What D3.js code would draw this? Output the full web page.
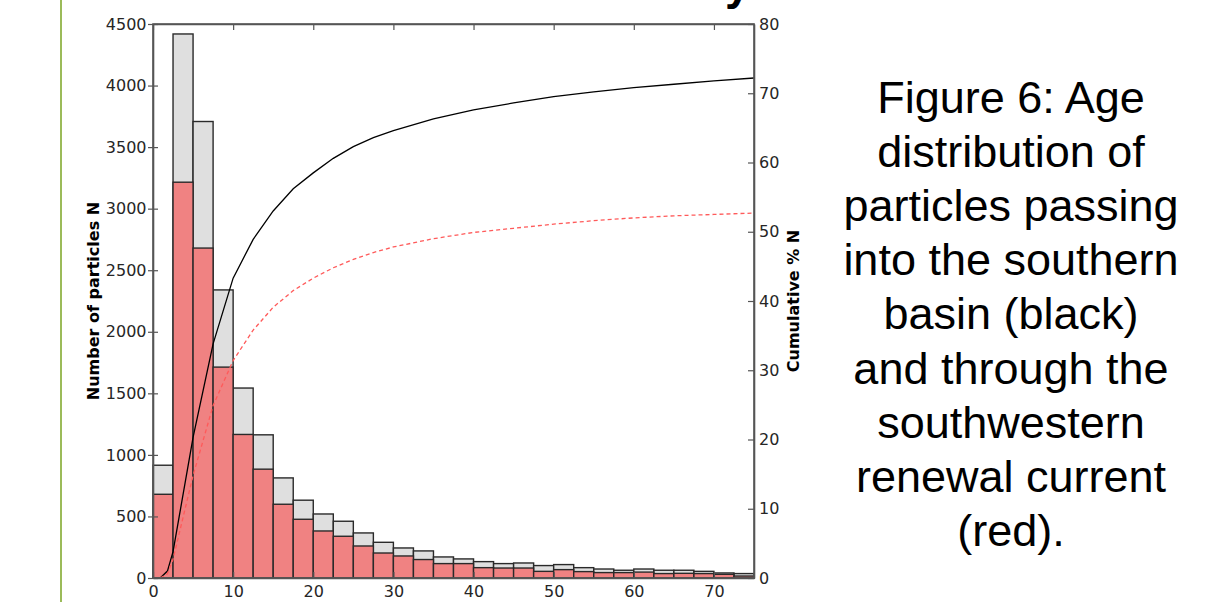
<!DOCTYPE html>
<html>
<head>
<meta charset="utf-8">
<script src="https://cdn.jsdelivr.net/npm/d3@7"></script>
<style>
  body { margin: 0; background: #fff; }
  svg { display: block; }
  .tick text { font-family: "DejaVu Sans", sans-serif; font-size: 16px; fill: #262626; }
  .caption { font-family: "Liberation Sans", Arial, sans-serif; font-size: 45px; fill: #000; }
</style>
</head>
<body>
<svg id="chart" width="1220" height="602"></svg>
<script>
// left edge of each 2.5-unit age bin
const binStarts = [0, 2.5, 5, 7.5, 10, 12.5, 15, 17.5, 20, 22.5, 25, 27.5, 30, 32.5, 35,
  37.5, 40, 42.5, 45, 47.5, 50, 52.5, 55, 57.5, 60, 62.5, 65, 67.5, 70, 72.5];
const binWidth = 2.5;

// particles entering the southern basin (grey bars)
const basinCounts = [916, 4419, 3708, 2340, 1543, 1163, 813, 632, 520, 461, 366, 290, 244, 220, 171,
  155, 133, 117, 122, 101, 109, 84, 73, 63, 73, 63, 63, 54, 41, 36];
// particles through the southwestern renewal current (red bars)
const renewalCounts = [680, 3215, 2680, 1713, 1166, 884, 599, 477, 382, 339, 260, 203, 179, 150, 117,
  117, 84, 81, 81, 54, 68, 52, 44, 44, 48, 36, 38, 36, 30, 16];

// cumulative % curves: [age, percent]
const basinCumulative = [[0.9, 0], [1.8, 1.0], [2.5, 3.8], [5, 20.3], [7.5, 33.8], [10, 43.3], [12.5, 48.9],
  [15, 53.0], [17.5, 56.2], [20, 58.5], [22.5, 60.6], [25, 62.3], [27.5, 63.6], [30, 64.6], [35, 66.3],
  [40, 67.6], [45, 68.6], [50, 69.5], [55, 70.2], [60, 70.8], [65, 71.3], [70, 71.8], [75, 72.2]];
const renewalCumulative = [[0.9, 0], [1.8, 0.6], [2.5, 2.7], [5, 14.8], [7.5, 24.9], [10, 31.4], [12.5, 35.8],
  [15, 39.1], [17.5, 41.5], [20, 43.3], [22.5, 44.8], [25, 46.0], [27.5, 47.0], [30, 47.8], [35, 49.0],
  [40, 49.9], [45, 50.5], [50, 51.1], [55, 51.6], [60, 52.0], [65, 52.3], [70, 52.5], [75, 52.7]];

const xTicks = [0, 10, 20, 30, 40, 50, 60, 70];
const countTicks = [0, 500, 1000, 1500, 2000, 2500, 3000, 3500, 4000, 4500];
const pctTicks = [0, 10, 20, 30, 40, 50, 60, 70, 80];

const captionLines = ['Figure 6: Age', 'distribution of', 'particles passing', 'into the southern',
  'basin (black)', 'and through the', 'southwestern', 'renewal current', '(red).'];

const svg = d3.select('#chart');

// slide decoration: green rule on the left, tail of the cut-off title at top
svg.append('line')
  .attr('x1', 61).attr('x2', 61).attr('y1', 0).attr('y2', 602)
  .attr('stroke', '#9bbb59').attr('stroke-width', 2);

svg.append('text')
  .attr('x', 725).attr('y', -1)
  .style('font-family', '"Liberation Sans", Arial, sans-serif')
  .style('font-size', '46px').style('font-weight', 'bold')
  .text('y');

const margin = { left: 153, top: 24, right: 466, bottom: 24 };
const width = 1220 - margin.left - margin.right;
const height = 602 - margin.top - margin.bottom;

const g = svg.append('g').attr('transform', `translate(${margin.left},${margin.top})`);

const x = d3.scaleLinear().domain([0, 75]).range([0, width]);
const yCount = d3.scaleLinear().domain([0, 4500]).range([height, 0]);
const yPct = d3.scaleLinear().domain([0, 80]).range([height, 0]);

const barStroke = '#2a2a2a';

g.selectAll('rect.basin')
  .data(binStarts)
  .join('rect')
  .attr('class', 'basin')
  .attr('x', (d) => x(d))
  .attr('width', x(binWidth) - x(0))
  .attr('y', (d, i) => yCount(basinCounts[i]))
  .attr('height', (d, i) => height - yCount(basinCounts[i]))
  .attr('fill', '#dfdfdf')
  .attr('stroke', barStroke)
  .attr('stroke-width', 1.4);

g.selectAll('rect.renewal')
  .data(binStarts)
  .join('rect')
  .attr('class', 'renewal')
  .attr('x', (d) => x(d))
  .attr('width', x(binWidth) - x(0))
  .attr('y', (d, i) => yCount(renewalCounts[i]))
  .attr('height', (d, i) => height - yCount(renewalCounts[i]))
  .attr('fill', '#f08282')
  .attr('stroke', barStroke)
  .attr('stroke-width', 1.4);

const line = d3.line()
  .x((d) => x(d[0]))
  .y((d) => yPct(d[1]));

g.append('path')
  .datum(basinCumulative)
  .attr('d', line)
  .attr('fill', 'none')
  .attr('stroke', '#000')
  .attr('stroke-width', 1.3);

g.append('path')
  .datum(renewalCumulative)
  .attr('d', line)
  .attr('fill', 'none')
  .attr('stroke', '#ff5a5a')
  .attr('stroke-width', 1.3)
  .attr('stroke-dasharray', '4,3');

// axes
const axisColor = '#555';
const fmt = d3.format('d');

g.append('g')
  .attr('transform', `translate(0,${height})`)
  .call(d3.axisBottom(x).tickValues(xTicks).tickFormat(fmt).tickSize(-6).tickPadding(8).tickSizeOuter(0));

g.append('g')
  .call(d3.axisTop(x).tickValues(xTicks).tickSize(-6).tickFormat('').tickSizeOuter(0));

const left = g.append('g')
  .call(d3.axisLeft(yCount).tickValues(countTicks).tickFormat(fmt).tickSize(5).tickPadding(1.5).tickSizeOuter(0));
left.selectAll('.tick line').attr('x2', 5).attr('x1', -5);

g.append('g')
  .attr('transform', `translate(${width},0)`)
  .call(d3.axisRight(yPct).tickValues(pctTicks).tickFormat(fmt).tickSize(-6).tickPadding(5).tickSizeOuter(0));

g.selectAll('.domain').attr('stroke', axisColor).attr('stroke-width', 1.6);
g.selectAll('.tick line').attr('stroke', axisColor).attr('stroke-width', 1.2);

// frame
g.append('rect')
  .attr('width', width).attr('height', height)
  .attr('fill', 'none')
  .attr('stroke', axisColor)
  .attr('stroke-width', 1.6);

g.append('text')
  .attr('transform', `translate(-54,${height / 2}) rotate(-90)`)
  .attr('text-anchor', 'middle')
  .style('font-family', '"DejaVu Sans", sans-serif')
  .style('font-size', '16px').style('font-weight', 'bold')
  .text('Number of particles N');

g.append('text')
  .attr('transform', `translate(${width + 45},${height / 2}) rotate(-90)`)
  .attr('text-anchor', 'middle')
  .style('font-family', '"DejaVu Sans", sans-serif')
  .style('font-size', '16px').style('font-weight', 'bold')
  .text('Cumulative % N');

// caption on the right
svg.append('g')
  .selectAll('text')
  .data(captionLines)
  .join('text')
  .attr('class', 'caption')
  .attr('x', 1011)
  .attr('y', (d, i) => 113 + i * 54.1)
  .attr('text-anchor', 'middle')
  .text((d) => d);
</script>
</body>
</html>
